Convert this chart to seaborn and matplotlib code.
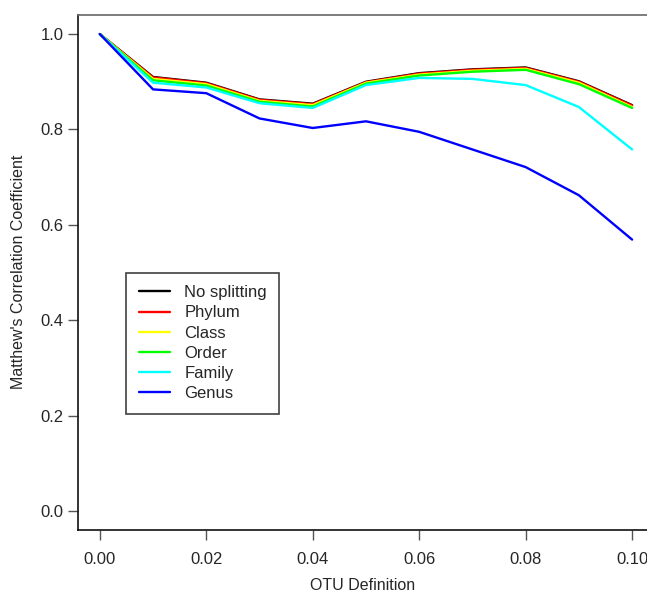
import matplotlib
matplotlib.use("Agg")
import matplotlib.pyplot as plt
import seaborn as sns
import pandas as pd

otu = [0.00, 0.01, 0.02, 0.03, 0.04, 0.05, 0.06, 0.07, 0.08, 0.09, 0.10]
no_splitting = [1.0, 0.910, 0.898, 0.863, 0.854, 0.900, 0.918, 0.926, 0.930, 0.901, 0.851]
phylum = [1.0, 0.909, 0.897, 0.862, 0.853, 0.899, 0.917, 0.925, 0.929, 0.900, 0.850]
klass = [1.0, 0.906, 0.895, 0.860, 0.851, 0.898, 0.915, 0.923, 0.927, 0.898, 0.847]
order = [1.0, 0.903, 0.892, 0.858, 0.848, 0.896, 0.913, 0.921, 0.925, 0.895, 0.845]
family = [1.0, 0.898, 0.888, 0.855, 0.845, 0.893, 0.908, 0.906, 0.893, 0.847, 0.758]
genus = [1.0, 0.884, 0.876, 0.823, 0.803, 0.817, 0.795, 0.758, 0.721, 0.662, 0.569]

series = {
    "No splitting": no_splitting,
    "Phylum": phylum,
    "Class": klass,
    "Order": order,
    "Family": family,
    "Genus": genus,
}
colors = ["#000000", "#ff0000", "#ffff00", "#00ff00", "#00ffff", "#0000ff"]

df = pd.concat(
    [pd.DataFrame({"otu": otu, "mcc": v, "level": k}) for k, v in series.items()],
    ignore_index=True,
)

sns.set_style("ticks")
plt.rcParams["font.family"] = ["Liberation Sans", "DejaVu Sans"]

fig = plt.figure(figsize=(6.47, 5.92), dpi=100)
ax = fig.add_axes([78 / 647, 1 - 530 / 592, 1 - 78 / 647, (530 - 14.5) / 592])

sns.lineplot(data=df, x="otu", y="mcc", hue="level", palette=colors,
             linewidth=1.7, ax=ax, legend=False)

ax.set_xlim(-0.0041, 0.1028)
ax.set_ylim(-0.04, 1.041)
ax.set_xticks([0.00, 0.02, 0.04, 0.06, 0.08, 0.10])
ax.set_xticklabels(["0.00", "0.02", "0.04", "0.06", "0.08", "0.10"])
ax.set_yticks([0.0, 0.2, 0.4, 0.6, 0.8, 1.0])
ax.set_yticklabels(["0.0", "0.2", "0.4", "0.6", "0.8", "1.0"])
ax.tick_params(axis="x", length=7, width=1, color="#555555", pad=8.5, labelsize=12)
ax.tick_params(axis="y", length=7, width=1, color="#555555", pad=3.5, labelsize=12)

ax.spines["right"].set_visible(False)
ax.spines["top"].set_color("#666666")
for s in ["left", "bottom"]:
    ax.spines[s].set_color("#111111")
for s in ax.spines.values():
    s.set_linewidth(1.2)

ax.set_xlabel("OTU Definition", fontsize=11.5, labelpad=8)
ax.set_ylabel("Matthew's Correlation Coefficient", fontsize=11.5, labelpad=10)

handles = [plt.Line2D([], [], color=c, linewidth=1.7) for c in colors]
leg = ax.legend(handles, list(series.keys()), loc="upper left",
                bbox_to_anchor=(126 / 647, 1 - 272.7 / 592),
                bbox_transform=fig.transFigure, fontsize=12,
                frameon=True, fancybox=False, handlelength=1.9,
                handletextpad=0.85, labelspacing=0.31, borderpad=0.75,
                borderaxespad=0)
leg.get_frame().set_edgecolor("#111111")
leg.get_frame().set_linewidth(1.2)

fig.savefig("out.png", dpi=100)
